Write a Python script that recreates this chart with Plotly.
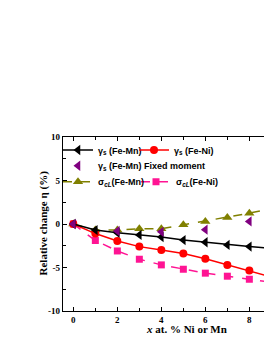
import plotly.graph_objects as go

x_all = [0, 1, 2, 3, 4, 5, 6, 7, 8, 9]
gamma_fe_mn = [0, -0.7, -1.0, -1.25, -1.5, -1.85, -2.1, -2.4, -2.6, -2.8]
gamma_fe_ni = [0, -1.1, -1.95, -2.6, -3.0, -3.4, -4.0, -4.7, -5.35, -6.1]
x_fixed = [0, 2, 4, 6, 8]
gamma_fixed = [0, -0.8, -0.9, -0.65, 0.3]
sigma_fe_mn = [0, -0.7, -0.7, -0.55, -0.55, -0.1, 0.3, 0.75, 1.25, 1.75]
sigma_fe_ni = [0, -1.9, -3.1, -4.05, -4.7, -5.2, -5.65, -6.0, -6.35, -6.7]

x_ticks = [0, 2, 4, 6, 8]
y_ticks = [-10, -5, 0, 5, 10]

serif = "Liberation Serif"
sans = "Liberation Sans"

fig = go.Figure()
fig.add_trace(go.Scatter(x=x_all, y=sigma_fe_ni, mode="lines+markers", name="σ<sub><i>cL</i></sub>(Fe-Ni)",
                         line=dict(color="#ff1493", width=1.5, dash="dash"),
                         marker=dict(symbol="square", size=7, color="#ff1493"), legend="legend5"))
fig.add_trace(go.Scatter(x=x_all, y=sigma_fe_mn, mode="lines+markers", name="σ<sub><i>cL</i></sub>(Fe-Mn)",
                         line=dict(color="#808000", width=1.5, dash="dash"),
                         marker=dict(symbol="triangle-up", size=9, color="#808000"), legend="legend3"))
fig.add_trace(go.Scatter(x=x_all, y=gamma_fe_ni, mode="lines+markers", name="γ<sub>s</sub> (Fe-Ni)",
                         line=dict(color="#ff0000", width=1.5),
                         marker=dict(symbol="circle", size=8, color="#ff0000"), legend="legend4"))
fig.add_trace(go.Scatter(x=x_all, y=gamma_fe_mn, mode="lines+markers", name="γ<sub>s</sub> (Fe-Mn)",
                         line=dict(color="#000000", width=1.5),
                         marker=dict(symbol="triangle-left", size=9, color="#000000"), legend="legend"))
fig.add_trace(go.Scatter(x=x_fixed, y=gamma_fixed, mode="markers", name="γ<sub>s</sub> (Fe-Mn) Fixed moment",
                         marker=dict(symbol="triangle-left", size=9, color="#800080"), legend="legend2"))

# page body has an 8px margin: figure origin sits at (8, 8) in the window
OFF = 8
H = 174.0
W = 209.0
def ly(py):
    return (311 - py) / H

def lx(text_px):
    # x=0 with indentation -5 puts legend text at 97 px
    return (text_px - 97) / W

legend_common = dict(orientation="h", xanchor="left", yanchor="middle", bgcolor="rgba(0,0,0,0)",
                     font=dict(family=sans, size=9, color="black", weight="bold"),
                     itemwidth=30, indentation=-5)
fig.update_layout(
    width=272 - OFF, height=352 - OFF,
    margin=dict(l=63 - OFF, r=0, t=137 - OFF, b=41, autoexpand=False),
    plot_bgcolor="white", paper_bgcolor="white",
    showlegend=True,
    legend=dict(x=lx(97), y=ly(150), **legend_common),
    legend4=dict(x=lx(173), y=ly(150), **legend_common),
    legend2=dict(x=lx(97), y=ly(165.7), **legend_common),
    legend3=dict(x=lx(97), y=ly(181.7), **legend_common),
    legend5=dict(x=lx(175), y=ly(181.7), **legend_common),
)
fig.update_xaxes(range=[-0.47, 9.03], tickvals=x_ticks, ticktext=[str(v) for v in x_ticks],
                 ticks="inside", ticklen=4, tickwidth=1.2, tickcolor="black",
                 minor=dict(tickvals=[1, 3, 5, 7, 9], ticks="inside", ticklen=2.5, tickcolor="black", tickwidth=1.2),
                 showline=True, linecolor="black", linewidth=1.3, mirror="ticks", showgrid=False, zeroline=False,
                 automargin=False,
                 tickfont=dict(family=serif, size=9, color="black", weight="bold"))
fig.update_yaxes(range=[-10, 10], tickvals=y_ticks, ticktext=[str(v) for v in y_ticks],
                 ticks="inside", ticklen=4, tickwidth=1.2, tickcolor="black",
                 minor=dict(tickvals=[-7.5, -2.5, 2.5, 7.5], ticks="inside", ticklen=2.5, tickcolor="black", tickwidth=1.2),
                 showline=True, linecolor="black", linewidth=1.3, mirror="ticks", showgrid=False, zeroline=False,
                 automargin=False,
                 tickfont=dict(family=serif, size=9, color="black", weight="bold"))

fig.add_annotation(text="<i>x</i> at. % Ni or Mn", xref="paper", yref="paper", x=(186.5 - 63) / W, y=-0.103,
                   xanchor="center", yanchor="middle", showarrow=False,
                   font=dict(family=serif, size=11, color="black", weight="bold"))
fig.add_annotation(text="Relative change η (%)", xref="paper", yref="paper", x=(43 - 63) / W, y=ly(223.5),
                   xanchor="center", yanchor="middle", textangle=-90, showarrow=False,
                   font=dict(family=serif, size=11, color="black", weight="bold"))

fig.write_html("out.html")
